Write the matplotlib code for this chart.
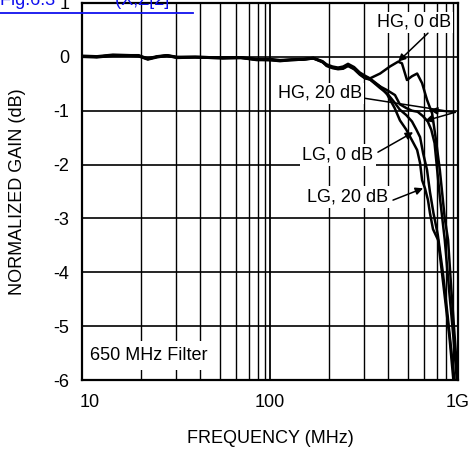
import matplotlib
matplotlib.use("Agg")
import matplotlib.pyplot as plt
from matplotlib.transforms import ScaledTranslation

plt.rcParams['font.family'] = ['Liberation Sans', 'DejaVu Sans']
plt.rcParams['font.size'] = 13
plt.rcParams['axes.unicode_minus'] = False

# shared low-frequency sweep points (MHz)
freq_low = [10, 12, 14.6, 18, 20, 22.4, 25, 28.3, 32, 40, 50, 56, 70, 85, 100,
            113, 130, 150, 170, 190, 200, 215, 230, 245, 260, 280, 300, 320]
hg0_low = [0.01, 0.0, 0.03, 0.03, 0.02, -0.04, 0.0, 0.03, -0.01, 0.0, -0.01, -0.02, -0.01, -0.05, -0.05,
           -0.07, -0.05, -0.04, -0.02, -0.08, -0.14, -0.18, -0.20, -0.18, -0.13, -0.19, -0.29, -0.35]
hg20_low = [0.0, -0.01, 0.02, 0.02, 0.01, -0.05, -0.01, 0.02, -0.02, -0.01, -0.02, -0.03, -0.02, -0.06, -0.06,
            -0.08, -0.06, -0.05, -0.03, -0.10, -0.16, -0.20, -0.22, -0.21, -0.16, -0.22, -0.32, -0.39]
lg0_low = [0.02, 0.01, 0.04, 0.03, 0.03, -0.03, 0.01, 0.03, 0.0, 0.0, -0.01, -0.01, -0.01, -0.04, -0.04,
           -0.06, -0.05, -0.05, -0.03, -0.09, -0.17, -0.21, -0.23, -0.22, -0.17, -0.23, -0.33, -0.40]
lg20_low = [0.01, 0.0, 0.03, 0.02, 0.02, -0.04, 0.0, 0.02, -0.01, -0.01, -0.02, -0.02, -0.02, -0.05, -0.06,
            -0.07, -0.06, -0.05, -0.02, -0.09, -0.15, -0.20, -0.21, -0.20, -0.15, -0.21, -0.31, -0.38]

# upper band, each trace
hg0_freq = [340, 385, 434, 480, 503, 535, 569, 606, 644, 684, 728, 760, 800, 850, 885, 920, 960, 1000]
hg0_gain = [-0.40, -0.31, -0.18, -0.09, -0.12, -0.43, -0.36, -0.31, -0.49, -0.80, -1.05, -1.5, -2.1, -3.0, -3.4, -4.3, -5.2, -6.1]

hg20_freq = [340, 385, 420, 462, 490, 530, 569, 610, 650, 690, 720, 750, 800, 850, 900, 950, 990]
hg20_gain = [-0.42, -0.55, -0.62, -0.71, -0.88, -0.95, -1.0, -1.02, -1.1, -1.2, -1.35, -1.6, -2.6, -3.4, -4.4, -5.3, -6.1]

lg0_freq = [340, 385, 420, 460, 490, 530, 569, 600, 628, 652, 684, 709, 740, 780, 830, 880, 930, 965]
lg0_gain = [-0.42, -0.58, -0.68, -0.85, -0.98, -1.08, -1.2, -1.35, -1.49, -1.79, -2.1, -2.51, -2.9, -3.3, -4.0, -4.8, -5.6, -6.1]

lg20_freq = [340, 385, 420, 460, 491, 530, 569, 606, 628, 644, 667, 692, 709, 736, 783, 840, 900, 950]
lg20_gain = [-0.40, -0.55, -0.70, -0.95, -1.18, -1.35, -1.55, -1.73, -1.97, -2.29, -2.44, -2.66, -2.9, -3.2, -3.4, -4.3, -5.2, -6.1]

# odd minor grid of the original graph paper (multipliers per decade)
grid_mult = [2.07, 3.18, 4.26, 5.41, 6.63, 7.71, 8.63, 9.35]

fig = plt.figure(figsize=(4.71, 4.51), dpi=100)
ax = fig.add_axes([0.174, 0.1574, 0.7985, 0.836])
ax.set_xscale('log')
ax.set_xlim(10, 1000)
ax.set_ylim(-6, 1)

for d in [10, 100]:
    for m in grid_mult:
        ax.axvline(d * m, color='black', lw=1.0, zorder=1)
ax.axvline(100, color='black', lw=1.3, zorder=1)
for g in range(-5, 1):
    ax.axhline(g, color='black', lw=1.2, zorder=1)

for lo, fq, gn in [(hg0_low, hg0_freq, hg0_gain), (hg20_low, hg20_freq, hg20_gain),
                   (lg0_low, lg0_freq, lg0_gain), (lg20_low, lg20_freq, lg20_gain)]:
    ax.plot(freq_low + fq, lo + gn, color='black', lw=1.8, zorder=3)

ax.set_xticks([10, 100, 1000])
ax.set_xticklabels(['10', '100', '1G'])
ax.set_xticks([], minor=True)
ax.set_yticks(range(-6, 2))
ax.set_yticklabels([str(v) for v in range(-6, 2)])
ax.tick_params(axis='both', length=0)
ax.tick_params(axis='x', pad=10)
ax.tick_params(axis='y', pad=9)
lab = ax.get_xticklabels()[0]
lab.set_transform(lab.get_transform() + ScaledTranslation(0.08, 0, fig.dpi_scale_trans))

for s in ax.spines.values():
    s.set_linewidth(1.6)

ax.set_xlabel('FREQUENCY (MHz)', labelpad=14)
ax.set_ylabel('NORMALIZED GAIN (dB)', labelpad=20)

box = dict(facecolor='white', edgecolor='none', pad=1.5)
arr = dict(arrowstyle='-|>', color='black', lw=1.1, mutation_scale=11, shrinkA=0, shrinkB=0)

ax.text(583, 0.64, 'HG, 0 dB', ha='center', va='center', bbox=box, zorder=5)
ax.annotate('', xy=(480, -0.09), xytext=(692, 0.44), arrowprops=arr, zorder=5)

ax.text(184.6, -0.68, 'HG, 20 dB', ha='center', va='center', bbox=box, zorder=5)
ax.plot([320, 964], [-0.77, -1.03], color='black', lw=1.1, zorder=5)
ax.annotate('', xy=(709, -0.99), xytext=(964, -1.03), arrowprops=arr, zorder=5)
ax.annotate('', xy=(667, -1.19), xytext=(964, -1.03), arrowprops=arr, zorder=5)

ax.text(230, -1.82, 'LG, 0 dB', ha='center', va='center', bbox=box, zorder=5)
ax.annotate('', xy=(577, -1.40), xytext=(375, -1.77), arrowprops=arr, zorder=5)

ax.text(257, -2.60, 'LG, 20 dB', ha='center', va='center', bbox=box, zorder=5)
ax.annotate('', xy=(652, -2.44), xytext=(451, -2.66), arrowprops=arr, zorder=5)

ax.text(11.03, -5.63, '650 MHz Filter', ha='left', va='baseline',
        bbox=dict(facecolor='white', edgecolor='none', pad=4), zorder=5)

# clipped hyperlink remnant at the very top
fig.text(0.0, 0.989, 'Fig.6.3            (X,Z[2]', color='#1010ee', ha='left', va='baseline')
fig.add_artist(plt.Line2D([0, 193 / 471], [0.972, 0.972], color='#1010ee', lw=1.3,
                          transform=fig.transFigure))

fig.savefig('out.png', dpi=100)
